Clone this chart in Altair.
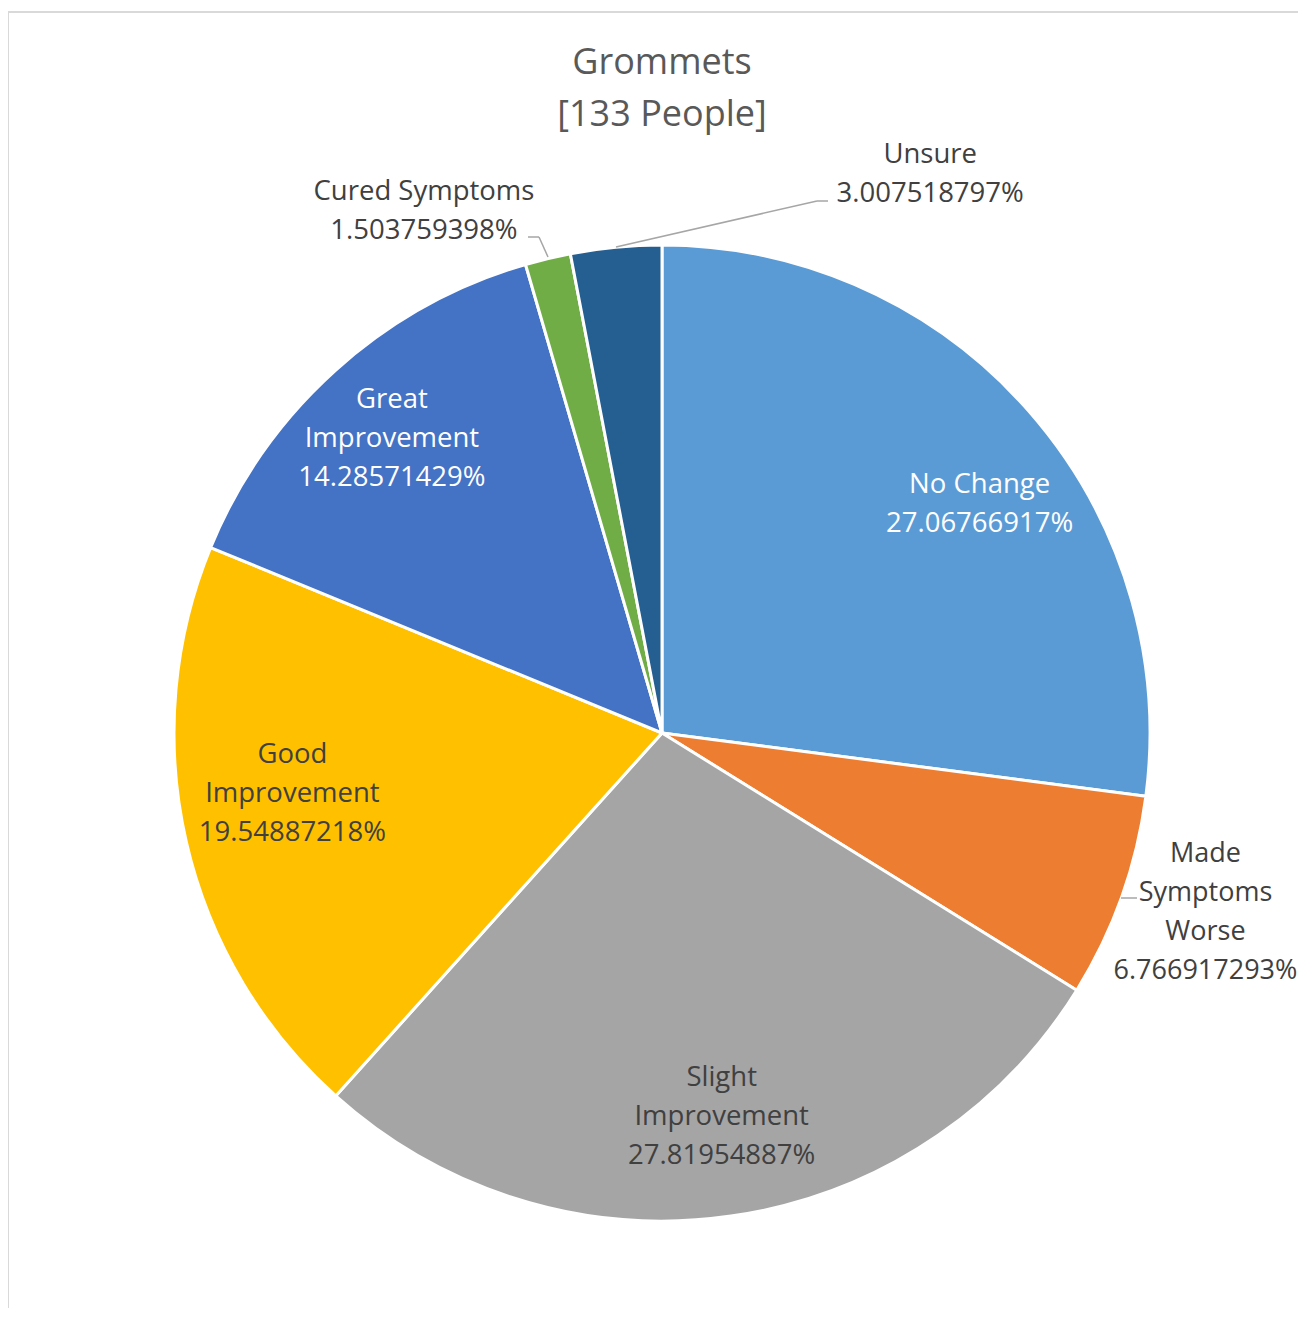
import altair as alt
import pandas as pd

# ---- data ----
categories = ["No Change", "Made Symptoms Worse", "Slight Improvement",
              "Good Improvement", "Great Improvement", "Cured Symptoms", "Unsure"]
display_names = ["No Change", "Made\nSymptoms\nWorse", "Slight\nImprovement",
                 "Good\nImprovement", "Great\nImprovement", "Cured Symptoms", "Unsure"]
percent_values = [27.06766917, 6.766917293, 27.81954887, 19.54887218,
                  14.28571429, 1.503759398, 3.007518797]
percent_labels = ["27.06766917%", "6.766917293%", "27.81954887%", "19.54887218%",
                  "14.28571429%", "1.503759398%", "3.007518797%"]
slice_colors = ["#5B9BD5", "#ED7D31", "#A5A5A5", "#FFC000", "#4472C4", "#70AD47", "#255E91"]
title_lines = ["Grommets", "[133 People]"]

df = pd.DataFrame({
    "category": categories,
    "name": display_names,
    "pct": percent_values,
    "pct_label": percent_labels,
    "idx": list(range(len(categories))),
})
df["label"] = df["name"] + "\n" + df["pct_label"]

# ---- layout / style ----
CX, CY = 654, 575      # pie centre inside the view
R = 488
FONT = "Open Sans"
DARK = "#404040"
LEADER = "#A6A6A6"
FRAME = "#D9D9D9"

base = alt.Chart(df)
theta = alt.Theta("pct:Q", stack=True)
order = alt.Order("idx:Q", sort="ascending")

arcs = base.mark_arc(outerRadius=R, stroke="white", strokeWidth=3).encode(
    theta=theta,
    order=order,
    color=alt.Color("category:N", scale=alt.Scale(domain=categories, range=slice_colors), legend=None),
    x=alt.value(CX),
    y=alt.value(CY),
)


def label_layer(cat, r, dx, dy, color, size=27.5):
    return base.transform_calculate(
        txt=f"datum.category === '{cat}' ? datum.label : ''"
    ).mark_text(
        radius=r, dx=dx, dy=dy, fontSize=size, font=FONT, color=color,
        lineBreak="\n", lineHeight=39, align="center", baseline="middle",
    ).encode(
        theta=theta, order=order, text="txt:N", x=alt.value(CX), y=alt.value(CY)
    )


labels = [
    label_layer("No Change", 392, 23, 11, "#FFFFFF"),
    label_layer("Made Symptoms Worse", 560, 16, -67, DARK, 27),
    label_layer("Slight Improvement", 387, 5, -38, DARK),
    label_layer("Good Improvement", 375, -4, -61, DARK),
    label_layer("Great Improvement", 401, -2, -35, "#FFFFFF"),
    label_layer("Cured Symptoms", 560, -107, 3, DARK),
    label_layer("Unsure", 560, 321, -20, DARK),
]

one = alt.Chart(pd.DataFrame({"k": [0]}))


def seg(x1, y1, x2, y2, color=LEADER, width=1.5):
    return one.mark_rule(color=color, strokeWidth=width).encode(
        x=alt.value(x1), y=alt.value(y1), x2=alt.value(x2), y2=alt.value(y2)
    )


leaders = [
    seg(608, 89, 809, 43), seg(809, 43, 820, 43),      # Unsure
    seg(540, 99, 531, 79), seg(531, 79, 520, 79),      # Cured Symptoms
    seg(1113, 740, 1129, 740),                         # Made Symptoms Worse
]
frame = [
    seg(0, -146, 1290, -146, FRAME, 2),
    seg(0, -146, 0, 1150, FRAME, 2),
]

chart = alt.layer(*frame, arcs, *leaders, *labels).properties(
    width=1290,
    height=1150,
    padding={"top": 150, "left": 0, "right": 0, "bottom": 0},
    autosize=alt.AutoSizeParams(type="none"),
    background="white",
    title=alt.Title(
        title_lines, font=FONT, fontSize=36, fontWeight="normal", color="#595959",
        lineHeight=52, anchor="middle", offset=0, baseline="bottom", dx=9, dy=159,
        frame="group",
    ),
).configure_view(stroke=None)

chart.save("out.html", embed_options={"renderer": "svg", "actions": False})
